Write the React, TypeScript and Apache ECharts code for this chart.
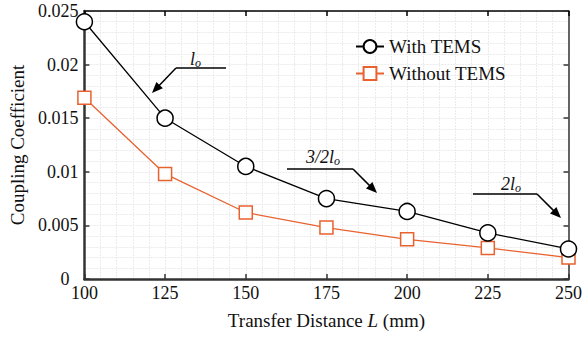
import React, { useEffect, useRef } from "react";
import * as echarts from "echarts";

const distances = [100, 125, 150, 175, 200, 225, 250];
const withTEMS = [0.024, 0.015, 0.0105, 0.0075, 0.0063, 0.0043, 0.0028];
const withoutTEMS = [0.0169, 0.0098, 0.0062, 0.0048, 0.0037, 0.0029, 0.002];
const seriesNames = ["With TEMS", "Without TEMS"];
const annotationLabels = ["l", "3/2l", "2l"];

const FONT = "Liberation Serif, Times New Roman, serif";
const ORANGE = "#e8622f";

function seg(x1: number, y1: number, x2: number, y2: number) {
  return {
    type: "polyline",
    shape: { points: [[x1, y1], [x2, y2]] },
    style: { stroke: "#000", lineWidth: 1.5, fill: null, lineDash: null },
    z: 100,
  };
}

function arrow(x1: number, y1: number, x2: number, y2: number) {
  const dx = x2 - x1;
  const dy = y2 - y1;
  const len = Math.sqrt(dx * dx + dy * dy);
  const ux = dx / len;
  const uy = dy / len;
  const hl = 11;
  const hw = 4.5;
  const bx = x2 - hl * ux;
  const by = y2 - hl * uy;
  const nx = -uy;
  const ny = ux;
  return [
    seg(x1, y1, bx + ux * 2, by + uy * 2),
    {
      type: "polygon",
      shape: {
        points: [
          [x2, y2],
          [bx + hw * nx, by + hw * ny],
          [bx - hw * nx, by - hw * ny],
        ],
      },
      style: { fill: "#000", stroke: null },
      z: 100,
    },
  ];
}

function label(x: number, baseline: number, main: string) {
  return {
    type: "text",
    x,
    y: baseline + 4,
    z: 100,
    style: {
      text: `{m|${main}}{s|o}`,
      verticalAlign: "bottom",
      align: "left",
      fill: "#111",
      rich: {
        m: {
          fontFamily: FONT,
          fontStyle: "italic",
          fontSize: 18,
          lineHeight: 18,
          fill: "#111",
          verticalAlign: "bottom",
          padding: [0, 0, 1, 0],
        },
        s: {
          fontFamily: FONT,
          fontStyle: "italic",
          fontSize: 12,
          lineHeight: 12,
          fill: "#111",
          verticalAlign: "bottom",
        },
      },
    },
  };
}

export default function App() {
  const ref = useRef<HTMLDivElement>(null);
  useEffect(() => {
    if (!ref.current) return;
    const chart = echarts.init(ref.current, undefined, { renderer: "svg" });
    const gridLine = { show: true, lineStyle: { color: "#ebebeb", width: 1, type: [2, 1] } };
    const labelStyle = { fontFamily: FONT, fontSize: 18, lineHeight: 14, color: "#111" };
    const option: any = {
      animation: false,
      backgroundColor: "#fff",
      grid: { left: 72, right: 13, top: 11, bottom: 58, containLabel: false },
      legend: {
        data: seriesNames,
        orient: "vertical",
        left: 350,
        top: 32,
        itemWidth: 28,
        itemHeight: 16,
        itemGap: 8,
        textStyle: { fontFamily: FONT, fontSize: 19, color: "#111" },
      },
      xAxis: [
        {
          type: "value",
          min: 100,
          max: 250,
          interval: 25,
          name: "Transfer Distance {i|L} (mm)",
          nameLocation: "middle",
          nameGap: 32,
          nameTextStyle: {
            fontFamily: FONT,
            fontSize: 19,
            color: "#111",
            rich: { i: { fontFamily: FONT, fontSize: 19, fontStyle: "italic", color: "#111" } },
          },
          axisLine: { show: true, onZero: false, lineStyle: { color: "#333", width: 2.5 } },
          axisTick: { show: true, inside: true, length: 5, lineStyle: { color: "#333", width: 1.5 } },
          axisLabel: { ...labelStyle, margin: 7 },
          splitLine: gridLine,
          minorTick: { show: false, splitNumber: 5 },
          minorSplitLine: gridLine,
        },
        {
          type: "value",
          position: "top",
          min: 100,
          max: 250,
          interval: 25,
          axisLine: { show: true, onZero: false, lineStyle: { color: "#000", width: 1.5 } },
          axisTick: { show: true, inside: true, length: 5, lineStyle: { color: "#000", width: 1.5 } },
          axisLabel: { show: false },
          splitLine: { show: false },
        },
      ],
      yAxis: [
        {
          type: "value",
          min: 0,
          max: 0.025,
          interval: 0.005,
          name: "Coupling Coefficient",
          nameLocation: "middle",
          nameGap: 47,
          nameTextStyle: { fontFamily: FONT, fontSize: 19, color: "#111" },
          axisLine: { show: true, onZero: false, lineStyle: { color: "#333", width: 2.5 } },
          axisTick: { show: true, inside: true, length: 5, lineStyle: { color: "#333", width: 1.5 } },
          axisLabel: {
            ...labelStyle,
            margin: 6,
            formatter: (v: number) => (v === 0 ? "{z|0}" : String(v)),
            rich: {
              z: { fontFamily: FONT, fontSize: 18, lineHeight: 14, color: "#111", padding: [0, 9, 0, 0] },
            },
          },
          splitLine: gridLine,
          minorTick: { show: false, splitNumber: 5 },
          minorSplitLine: gridLine,
        },
        {
          type: "value",
          position: "right",
          min: 0,
          max: 0.025,
          interval: 0.005,
          axisLine: { show: true, onZero: false, lineStyle: { color: "#333", width: 1.5 } },
          axisTick: { show: true, inside: true, length: 5, lineStyle: { color: "#333", width: 1.5 } },
          axisLabel: { show: false },
          splitLine: { show: false },
        },
      ],
      series: [
        {
          name: seriesNames[0],
          type: "line",
          data: distances.map((d, i) => [d, withTEMS[i]]),
          symbol: "circle",
          symbolSize: 16,
          lineStyle: { color: "#000", width: 1.3 },
          itemStyle: { color: "#fff", borderColor: "#000", borderWidth: 1.5 },
          z: 4,
        },
        {
          name: seriesNames[1],
          type: "line",
          data: distances.map((d, i) => [d, withoutTEMS[i]]),
          symbol: "rect",
          symbolSize: 13,
          lineStyle: { color: ORANGE, width: 1.3 },
          itemStyle: { color: "#fff", borderColor: ORANGE, borderWidth: 1.5 },
          z: 3,
        },
      ],
      graphic: [
        seg(176, 68, 226, 68),
        ...arrow(176, 68, 152, 93),
        label(190, 65, annotationLabels[0]),
        seg(287, 169, 353, 169),
        ...arrow(353, 169, 377, 193),
        label(306, 163, annotationLabels[1]),
        seg(473, 194, 537, 194),
        ...arrow(537, 194, 561, 218),
        label(501, 190, annotationLabels[2]),
      ],
    };
    chart.setOption(option);
    return () => chart.dispose();
  }, []);
  return <div ref={ref} style={{ width: 585, height: 337, position: "absolute", left: 0, top: 0 }} />;
}
